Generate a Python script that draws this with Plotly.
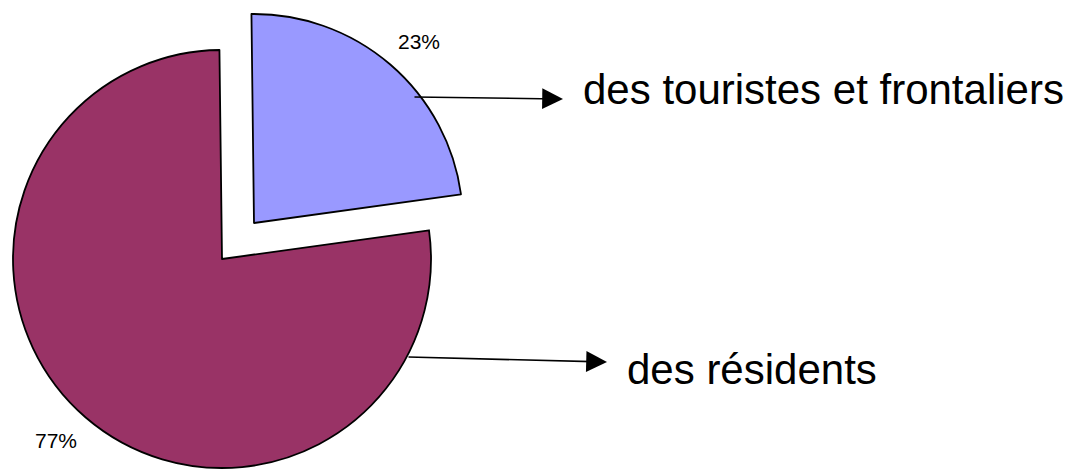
import plotly.graph_objects as go

# Data
categories = ["des touristes et frontaliers", "des résidents"]
values = [23, 77]
colors = ["#9999FF", "#993366"]

# The page body has a default 8px margin; size the figure so it fills the window.
WIN_W, WIN_H = 1073, 469
OFF = 8
W, H = WIN_W - OFF, WIN_H - OFF
TRANSPARENT = "rgba(0,0,0,0)"


def px_x(x):
    """screen x pixel -> paper coordinate"""
    return (x - OFF) / W


def px_y(y):
    """screen y pixel -> paper coordinate"""
    return 1 - (y - OFF) / H


total = sum(values)
pct_text = [f"{round(v / total * 100)}%" for v in values]

fig = go.Figure()

common = dict(
    labels=categories,
    values=values,
    sort=False,
    direction="clockwise",
    rotation=-0.7,
    textinfo="none",
    hoverinfo="skip",
    showlegend=False,
)

# Main (non-pulled) slice: residents
fig.add_trace(go.Pie(
    marker=dict(colors=[TRANSPARENT, colors[1]],
                line=dict(color=[TRANSPARENT, "black"], width=1.8)),
    domain=dict(x=[px_x(13), px_x(431)], y=[px_y(468), px_y(50)]),
    **common,
))

# Exploded slice: tourists and cross-border workers
fig.add_trace(go.Pie(
    marker=dict(colors=[colors[0], TRANSPARENT],
                line=dict(color=["black", TRANSPARENT], width=1.8)),
    domain=dict(x=[px_x(45), px_x(463)], y=[px_y(432), px_y(14)]),
    **common,
))

label_font = dict(family="Liberation Sans, Arial", size=42, color="black")
pct_font = dict(family="Liberation Sans, Arial", size=21, color="black")

annotations = [
    # arrows
    dict(x=px_x(563), y=px_y(99), xref="paper", yref="paper", text="",
         showarrow=True, ax=-150, ay=-2, arrowhead=2, arrowsize=2.6,
         arrowwidth=1.6, arrowcolor="black"),
    dict(x=px_x(607), y=px_y(362), xref="paper", yref="paper", text="",
         showarrow=True, ax=-200, ay=-5, arrowhead=2, arrowsize=2.6,
         arrowwidth=1.6, arrowcolor="black"),
    # category labels
    dict(x=px_x(581), y=px_y(90), xref="paper", yref="paper",
         text=categories[0], showarrow=False, xanchor="left", yanchor="middle",
         font=label_font),
    dict(x=px_x(625), y=px_y(369), xref="paper", yref="paper",
         text=categories[1], showarrow=False, xanchor="left", yanchor="middle",
         font=label_font),
    # percentage labels
    dict(x=px_x(419), y=px_y(41), xref="paper", yref="paper",
         text=pct_text[0], showarrow=False, xanchor="center", yanchor="middle",
         font=pct_font),
    dict(x=px_x(56), y=px_y(440), xref="paper", yref="paper",
         text=pct_text[1], showarrow=False, xanchor="center", yanchor="middle",
         font=pct_font),
]

fig.update_layout(
    width=W, height=H,
    margin=dict(l=0, r=0, t=0, b=0),
    paper_bgcolor="white",
    plot_bgcolor="white",
    annotations=annotations,
)

fig.write_html("out.html")
